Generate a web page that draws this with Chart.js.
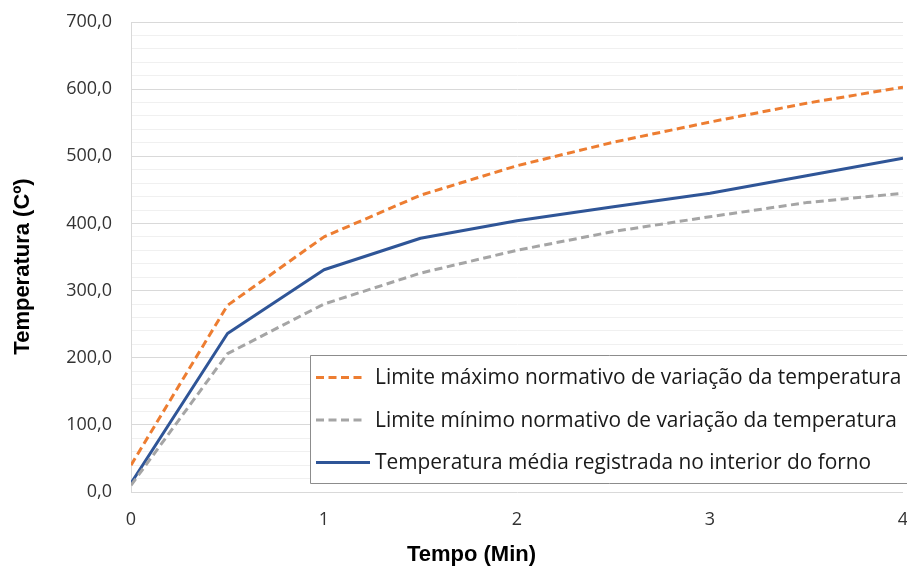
<!DOCTYPE html>
<html>
<head>
<meta charset="utf-8">
<script src="https://cdn.jsdelivr.net/npm/chart.js@4"></script>
<style>
  html, body { margin: 0; padding: 0; background: #ffffff; overflow: hidden; }
  #wrap { width: 907px; height: 569px; overflow: hidden; }
  canvas { display: block; }
</style>
</head>
<body>
<div id="wrap"><canvas id="c" width="907" height="569"></canvas></div>
<script>
// ---- data ----
const timeMin = [0, 0.5, 1, 1.5, 2, 2.5, 3, 3.5, 4];
const limiteMaximo = [40, 278, 380, 442, 486, 521, 551, 579, 603];
const limiteMinimo = [10, 206, 280, 326, 360, 388, 410, 431, 445];
const temperaturaMedia = [13, 236, 331, 378, 404, 425, 445, 471, 497];
const seriesLabels = [
  'Limite máximo normativo de variação da temperatura',
  'Limite mínimo normativo de variação da temperatura',
  'Temperatura média registrada no interior do forno'
];
const xTicks = [0, 1, 2, 3, 4];
const yTicks = [0, 100, 200, 300, 400, 500, 600, 700];
const yTitle = 'Temperatura (Cº)';
const xTitle = 'Tempo (Min)';

const toPts = arr => arr.map((v, i) => ({ x: timeMin[i], y: v }));

const customDecor = {
  id: 'customDecor',
  afterDraw(chart) {
    const ctx = chart.ctx;
    ctx.save();
    // legend box (its right side runs past the canvas edge, as in the reference)
    const bx = 310.5, by = 355.5, bh = 128, bRight = chart.width + 20;
    ctx.fillStyle = '#ffffff';
    ctx.fillRect(bx, by, bRight - bx, bh);
    ctx.strokeStyle = '#8c8c8c';
    ctx.lineWidth = 1;
    ctx.beginPath();
    ctx.moveTo(bRight, by);
    ctx.lineTo(bx, by);
    ctx.lineTo(bx, by + bh);
    ctx.lineTo(bRight, by + bh);
    ctx.stroke();
    const rows = [377.5, 420, 462.5];
    chart.data.datasets.forEach((ds, i) => {
      const y = rows[i];
      ctx.save();
      ctx.strokeStyle = ds.borderColor;
      ctx.lineWidth = ds.borderWidth;
      ctx.setLineDash(ds.borderDash || []);
      ctx.beginPath();
      ctx.moveTo(316, y);
      ctx.lineTo(i === 2 ? 370 : 366, y);
      ctx.stroke();
      ctx.restore();
      ctx.fillStyle = '#1a1a1a';
      ctx.font = '20.9px "Open Sans"';
      ctx.textBaseline = 'middle';
      ctx.textAlign = 'left';
      ctx.fillText(ds.label, 375, y + 1);
    });
    // axis titles
    ctx.fillStyle = '#000000';
    ctx.font = 'bold 22px "Liberation Sans", Arial';
    ctx.textAlign = 'center';
    ctx.textBaseline = 'middle';
    ctx.fillText(xTitle, 471.5, 555);
    ctx.translate(23, 266.5);
    ctx.rotate(-Math.PI / 2);
    ctx.fillText(yTitle, 0, 0);
    ctx.restore();
  }
};

new Chart(document.getElementById('c'), {
  type: 'line',
  data: {
    datasets: [
      {
        label: seriesLabels[0],
        data: toPts(limiteMaximo),
        borderColor: '#ED7D31',
        borderWidth: 3,
        borderDash: [8, 4.5],
        pointRadius: 0,
        tension: 0,
        fill: false
      },
      {
        label: seriesLabels[1],
        data: toPts(limiteMinimo),
        borderColor: '#A5A5A5',
        borderWidth: 3,
        borderDash: [8, 4.5],
        pointRadius: 0,
        tension: 0,
        fill: false
      },
      {
        label: seriesLabels[2],
        data: toPts(temperaturaMedia),
        borderColor: '#2F5597',
        borderWidth: 3,
        pointRadius: 0,
        tension: 0,
        fill: false
      }
    ]
  },
  options: {
    responsive: false,
    animation: false,
    devicePixelRatio: 1,
    layout: { padding: { top: 22, right: 0, left: 0, bottom: 0 } },
    plugins: {
      legend: { display: false },
      tooltip: { enabled: false },
      title: { display: false }
    },
    elements: { line: { borderJoinStyle: 'round', borderCapStyle: 'butt' } },
    scales: {
      x: {
        type: 'linear',
        min: xTicks[0],
        max: xTicks[xTicks.length - 1],
        afterBuildTicks: s => { s.ticks = xTicks.map(v => ({ value: v })); },
        ticks: {
          font: { family: 'Open Sans', size: 18 },
          color: '#333333',
          padding: 17,
          maxRotation: 0,
          callback: v => String(v)
        },
        grid: { display: false, drawTicks: false },
        border: { display: false },
        afterFit: s => { s.height = 77; s.paddingLeft = 0; s.paddingRight = 4; }
      },
      y: {
        min: 0,
        max: 700,
        ticks: {
          stepSize: 20,
          autoSkip: false,
          font: { family: 'Open Sans', size: 18 },
          color: '#333333',
          padding: 19,
          callback: v => (yTicks.includes(v) ? v.toFixed(1).replace('.', ',') : '')
        },
        grid: {
          drawTicks: false,
          color: c => (c.tick && c.tick.value % 100 === 0 ? '#d9d9d9' : '#f0f0f0'),
          lineWidth: 1
        },
        border: { display: true, color: '#d9d9d9', width: 1 },
        afterFit: s => { s.width = 131; s.paddingTop = 0; s.paddingBottom = 0; }
      }
    }
  },
  plugins: [customDecor]
});
</script>
</body>
</html>
